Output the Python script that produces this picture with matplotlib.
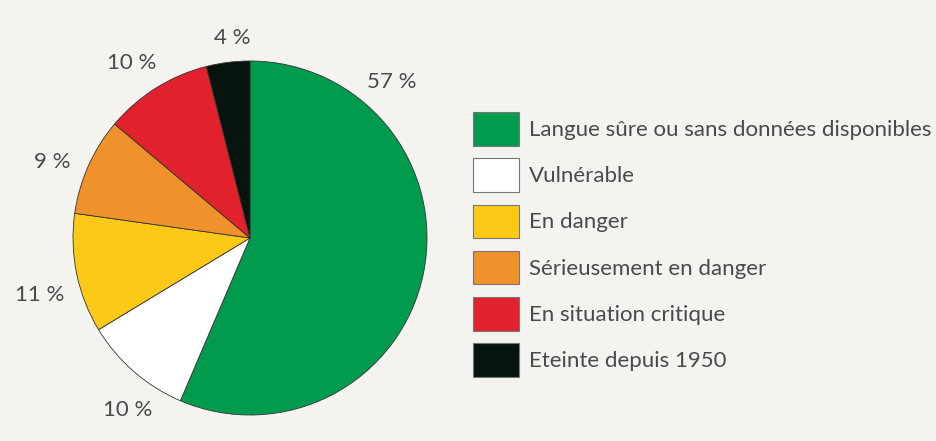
import matplotlib
matplotlib.use("Agg")
import matplotlib.pyplot as plt
from matplotlib.patches import Patch

categories = ["Langue sûre ou sans données disponibles", "Vulnérable", "En danger",
              "Sérieusement en danger", "En situation critique", "Eteinte depuis 1950"]
values = [57, 10, 11, 9, 10, 4]
pct_labels = ["57 %", "10 %", "11 %", "9 %", "10 %", "4 %"]
colors = ["#009b4f", "#ffffff", "#fdc917", "#f0922b", "#e1212b", "#07130d"]
# label anchor positions in units of pie radius
label_pos = [(0.80, 0.88), (-0.69, -0.97), (-1.19, -0.32), (-1.12, 0.43), (-0.67, 0.99), (-0.10, 1.13)]

bg = "#f4f3f0"
txt = "#4a4a4a"
plt.rcParams['font.family'] = ['Lato', 'DejaVu Sans']

fig = plt.figure(figsize=(9.36, 4.41), dpi=100, facecolor=bg)
ax = fig.add_axes([73/936, 26/441, 354/936, 354/441])
ax.set_facecolor(bg)
wedges, _ = ax.pie(values, colors=colors, startangle=90, counterclock=False,
                   radius=1.0, wedgeprops=dict(edgecolor="#333333", linewidth=0.6))
ax.set_xlim(-1, 1)
ax.set_ylim(-1, 1)
ax.set_aspect('equal')
ax.axis('off')

for lab, (x, y) in zip(pct_labels, label_pos):
    ax.text(x, y, lab, ha='center', va='center', fontsize=16, color=txt,
            fontweight='normal', clip_on=False)

fs = 16
handles = [Patch(facecolor=c, edgecolor="#777777", linewidth=0.8) for c in colors]
leg = fig.legend(handles, categories, loc='upper left', bbox_to_anchor=(473/936, 1 - 112/441),
                 frameon=False, handlelength=2.08, handleheight=1.95,
                 labelspacing=0.57, handletextpad=0.45, borderaxespad=0, borderpad=0,
                 prop=dict(weight='normal', size=fs))
for t in leg.get_texts():
    t.set_color(txt)

fig.savefig("out.png", dpi=100, facecolor=bg)
